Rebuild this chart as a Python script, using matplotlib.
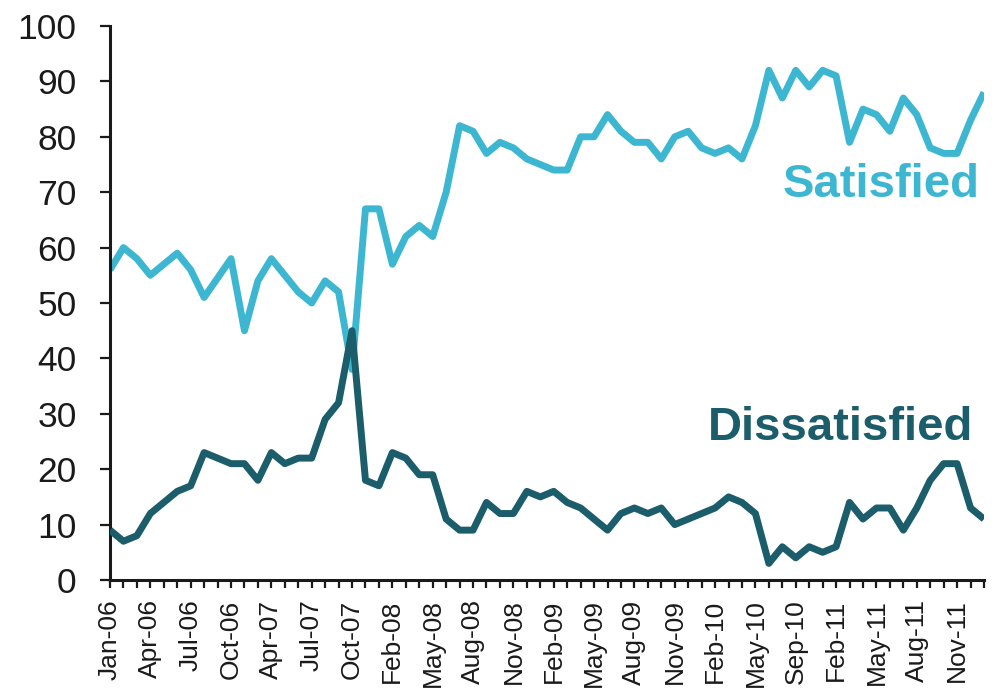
import matplotlib
matplotlib.use("Agg")
import matplotlib.pyplot as plt
import numpy as np

plt.rcParams['font.family'] = ['Liberation Sans', 'DejaVu Sans']

satisfied = [56, 60, 58, 55, 57, 59, 56, 51, 54.5, 58,
             45, 54, 58, 55, 52, 50, 54, 52, 38, 67,
             67, 57, 62, 64, 62, 70, 82, 81, 77, 79,
             78, 76, 75, 74, 74, 80, 80, 84, 81, 79,
             79, 76, 80, 81, 78, 77, 78, 76, 82, 92,
             87, 92, 89, 92, 91, 79, 85, 84, 81, 87,
             84, 78, 77, 77, 83, 88]
dissatisfied = [9, 7, 8, 12, 14, 16, 17, 23, 22, 21,
                21, 18, 23, 21, 22, 22, 29, 32, 45, 18,
                17, 23, 22, 19, 19, 11, 9, 9, 14, 12,
                12, 16, 15, 16, 14, 13, 11, 9, 12, 13,
                12, 13, 10, 11, 12, 13, 15, 14, 12, 3,
                6, 4, 6, 5, 6, 14, 11, 13, 13, 9,
                13, 18, 21, 21, 13, 11]
tick_labels = ["Jan-06", "Apr-06", "Jul-06", "Oct-06", "Apr-07", "Jul-07",
               "Oct-07", "Feb-08", "May-08", "Aug-08", "Nov-08", "Feb-09",
               "May-09", "Aug-09", "Nov-09", "Feb-10", "May-10", "Sep-10",
               "Feb-11", "May-11", "Aug-11", "Nov-11"]

c_sat = "#3db7d1"
c_dis = "#1b5d6a"
ink = "#1a1a1a"

fig = plt.figure(figsize=(9.98, 6.90), dpi=100)
ax = fig.add_axes([110/998, 1-580/690, (984-110)/998, (580-26)/690])

x = np.arange(len(satisfied))
ax.plot(x, satisfied, color=c_sat, lw=5.0, solid_joinstyle='round', solid_capstyle='butt', zorder=2)
ax.plot(x, dissatisfied, color=c_dis, lw=5.0, solid_joinstyle='round', solid_capstyle='butt', zorder=3)

ax.set_xlim(0, len(satisfied) - 1)
ax.set_ylim(0, 100)
ax.set_yticks(np.arange(0, 101, 10))
ax.set_xticks(x, minor=True)
ax.set_xticks(x[::3])
ax.set_xticklabels(tick_labels, rotation=90)

for s in ['top', 'right']:
    ax.spines[s].set_visible(False)
for s in ['left', 'bottom']:
    ax.spines[s].set_linewidth(2.2)
    ax.spines[s].set_color(ink)

ax.tick_params(axis='y', direction='out', length=7, width=1.6, color=ink,
               labelsize=25.5, pad=17, labelcolor=ink)
ax.tick_params(axis='x', which='both', direction='out', length=6, width=1.6, color=ink)
ax.tick_params(axis='x', which='major', labelsize=19, pad=8, labelcolor=ink)

ax.text(50.0, 69.1, "Satisfied", color=c_sat, fontsize=34, fontweight='bold',
        ha='left', va='baseline')
ax.text(44.5, 25.3, "Dissatisfied", color=c_dis, fontsize=34, fontweight='bold',
        ha='left', va='baseline')

fig.savefig("out.png", dpi=100)
